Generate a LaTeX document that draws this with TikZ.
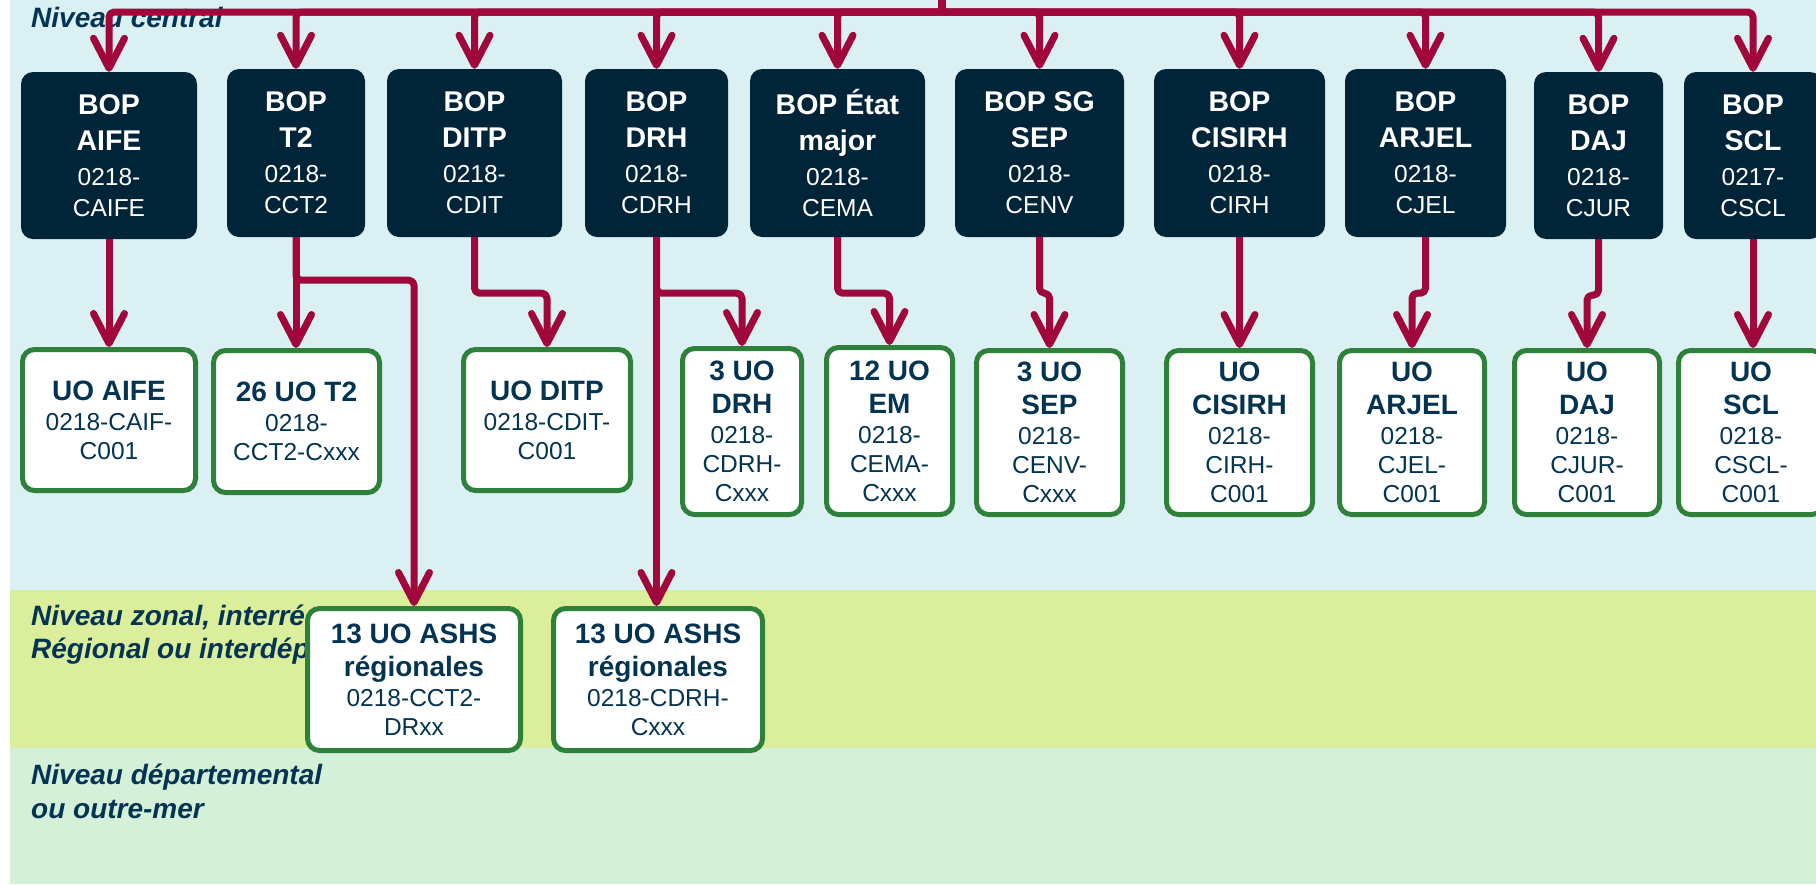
\documentclass[tikz,border=0pt]{standalone}
\usepackage{fontspec}
\setmainfont{Liberation Sans}
\usetikzlibrary{arrows.meta}
\definecolor{bgcentral}{RGB}{219,240,242}
\definecolor{bgzonal}{RGB}{219,238,156}
\definecolor{bgdep}{RGB}{213,240,217}
\definecolor{bopfill}{RGB}{0,37,56}
\definecolor{uoborder}{RGB}{46,128,58}
\definecolor{connred}{RGB}{160,8,60}
\definecolor{navy}{RGB}{5,52,82}
\newcommand\bopb[1]{{\fontsize{28.5}{31}\selectfont\bfseries #1}}
\newcommand\uob[1]{{\fontsize{28}{29}\selectfont\bfseries #1}}
\begin{document}
\begin{tikzpicture}[x=1pt,y=-1pt,
  bopbox/.style={fill=bopfill, rounded corners=12pt, text=white, align=center,
    inner sep=0pt, font=\fontsize{24.5}{31}\selectfont},
  uobox/.style={draw=uoborder, line width=5pt, fill=white, rounded corners=12pt,
    text=navy, align=center, inner sep=0pt, font=\fontsize{24.5}{29}\selectfont},
  lvl/.style={anchor=base west, text=navy, align=left, inner sep=0pt,
    font=\fontsize{28}{33}\selectfont\bfseries\itshape},
  busline/.style={draw=connred, line width=7.5pt},
  link/.style={draw=connred, line width=7pt, rounded corners=5pt, line join=round,
    -{Straight Barb[length=30pt,width=31pt,line width=7pt,round]}},
]
\clip (0,0) rectangle (1816,884);
% background bands
\fill[white] (0,0) rectangle (1816,884);
\fill[bgcentral] (10,0) rectangle (1816,590);
\fill[bgzonal] (10,590) rectangle (1816,748);
\fill[bgdep] (10,748) rectangle (1816,884);
% level labels (anchor base = baseline of last line)
\node[lvl] (lcentral) at (31,27) {Niveau central};
\node[lvl] (lzonal) at (31,658) {Niveau zonal, interré\\Régional ou interdép};
\node[lvl] (ldep) at (31,818) {Niveau départemental\\[1pt]ou outre-mer};
% BOP boxes
\node[bopbox, minimum width=176pt, minimum height=167pt] (bAIFE) at (109,155.5)
  {\bopb{BOP}\\[5pt]\bopb{AIFE}\\[4pt]0218-\\CAIFE};
\node[bopbox, minimum width=138pt, minimum height=168pt] (bT2) at (296,153)
  {\bopb{BOP}\\[5pt]\bopb{T2}\\[4pt]0218-\\CCT2};
\node[bopbox, minimum width=175pt, minimum height=168pt] (bDITP) at (474.5,153)
  {\bopb{BOP}\\[5pt]\bopb{DITP}\\[4pt]0218-\\CDIT};
\node[bopbox, minimum width=143pt, minimum height=168pt] (bDRH) at (656.5,153)
  {\bopb{BOP}\\[5pt]\bopb{DRH}\\[4pt]0218-\\CDRH};
\node[bopbox, minimum width=175pt, minimum height=168pt] (bEM) at (837.5,153)
  {\bopb{BOP État}\\[5pt]\bopb{major}\\[4pt]0218-\\CEMA};
\node[bopbox, minimum width=169pt, minimum height=168pt] (bSEP) at (1039.5,153)
  {\bopb{BOP SG}\\[5pt]\bopb{SEP}\\[4pt]0218-\\CENV};
\node[bopbox, minimum width=171pt, minimum height=168pt] (bCISIRH) at (1239.5,153)
  {\bopb{BOP}\\[5pt]\bopb{CISIRH}\\[4pt]0218-\\CIRH};
\node[bopbox, minimum width=161pt, minimum height=168pt] (bARJEL) at (1425.5,153)
  {\bopb{BOP}\\[5pt]\bopb{ARJEL}\\[4pt]0218-\\CJEL};
\node[bopbox, minimum width=129pt, minimum height=167pt] (bDAJ) at (1598.5,155.5)
  {\bopb{BOP}\\[5pt]\bopb{DAJ}\\[4pt]0218-\\CJUR};
\node[bopbox, minimum width=138pt, minimum height=167pt] (bSCL) at (1753,155.5)
  {\bopb{BOP}\\[5pt]\bopb{SCL}\\[4pt]0217-\\CSCL};
% UO boxes
\node[uobox, minimum width=173pt, minimum height=141pt] (uAIFE) at (109,420)
  {\uob{UO AIFE}\\[1pt]0218-CAIF-\\C001};
\node[uobox, minimum width=166pt, minimum height=142pt] (uT2) at (296.5,421.5)
  {\uob{26 UO T2}\\[1pt]0218-\\CCT2-Cxxx};
\node[uobox, minimum width=167pt, minimum height=141pt] (uDITP) at (547,420)
  {\uob{UO DITP}\\[1pt]0218-CDIT-\\C001};
\node[uobox, minimum width=119pt, minimum height=166pt] (uDRH) at (742,431.5)
  {\uob{3 UO}\\[4pt]\uob{DRH}\\[1pt]0218-\\CDRH-\\Cxxx};
\node[uobox, minimum width=126pt, minimum height=167pt] (uEM) at (889.5,431)
  {\uob{12 UO}\\[4pt]\uob{EM}\\[1pt]0218-\\CEMA-\\Cxxx};
\node[uobox, minimum width=146pt, minimum height=164pt] (uSEP) at (1049.5,432.5)
  {\uob{3 UO}\\[4pt]\uob{SEP}\\[1pt]0218-\\CENV-\\Cxxx};
\node[uobox, minimum width=146pt, minimum height=164pt] (uCISIRH) at (1239.5,432.5)
  {\uob{UO}\\[4pt]\uob{CISIRH}\\[1pt]0218-\\CIRH-\\C001};
\node[uobox, minimum width=145pt, minimum height=164pt] (uARJEL) at (1412,432.5)
  {\uob{UO}\\[4pt]\uob{ARJEL}\\[1pt]0218-\\CJEL-\\C001};
\node[uobox, minimum width=145pt, minimum height=164pt] (uDAJ) at (1587,432.5)
  {\uob{UO}\\[4pt]\uob{DAJ}\\[1pt]0218-\\CJUR-\\C001};
\node[uobox, minimum width=145pt, minimum height=164pt] (uSCL) at (1751,432.5)
  {\uob{UO}\\[4pt]\uob{SCL}\\[1pt]0218-\\CSCL-\\C001};
% ASHS boxes
\node[uobox, minimum width=213pt, minimum height=142pt] (aT2) at (414,679.5)
  {\uob{13 UO ASHS}\\[4pt]\uob{régionales}\\[1pt]0218-CCT2-\\DRxx};
\node[uobox, minimum width=209pt, minimum height=142pt] (aDRH) at (658,679.5)
  {\uob{13 UO ASHS}\\[4pt]\uob{régionales}\\[1pt]0218-CDRH-\\Cxxx};
% top bus
\coordinate (hub) at (942,12);
\coordinate (root) at (942,-20);
\draw[busline] (root) -- (hub);
\foreach \b in {bAIFE,bT2,bDITP,bDRH,bEM,bSEP,bCISIRH,bARJEL,bDAJ,bSCL}
  \draw[link] (hub) -| (\b.north);
% lower connectors
\draw[link] (bAIFE.south) -- (bAIFE.south |- uAIFE.north);
\draw[link] (bT2.south) -- (bT2.south |- uT2.north);
\draw[link] (bT2.south) -- ++(0,43) -| (aT2.north);
\draw[link] (bDITP.south) -- ++(0,56) -| (uDITP.north);
\draw[link] (bDRH.south) -- (bDRH.south |- aDRH.north);
\draw[link] (bDRH.south) -- ++(0,56) -| (uDRH.north);
\draw[link] (bEM.south) -- ++(0,56) -| (uEM.north);
\draw[link] (bSEP.south) -- ++(0,56) -| (uSEP.north);
\draw[link] (bCISIRH.south) -- (bCISIRH.south |- uCISIRH.north);
\draw[link] (bARJEL.south) -- ++(0,56) -| (uARJEL.north);
\draw[link] (bDAJ.south) -- ++(0,56) -| (uDAJ.north);
\draw[link] (bSCL.south) -- (bSCL.south |- uSCL.north);
\end{tikzpicture}
\end{document}
